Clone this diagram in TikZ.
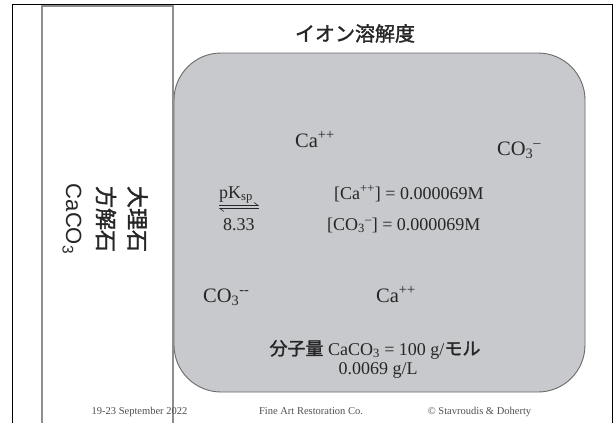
\documentclass[tikz,border=0pt]{standalone}
\usepackage{fontspec}
\setmainfont{Liberation Serif}
\setsansfont{Liberation Sans}
\newfontfamily\jp[FakeBold=1.5]{Noto Sans CJK JP}
\usetikzlibrary{arrows.meta}
\definecolor{boxfill}{HTML}{C8C9CC}
\definecolor{boxline}{HTML}{6A6A6A}
\definecolor{panelline}{HTML}{8E8E8E}
\definecolor{ink}{HTML}{262626}
\definecolor{footink}{HTML}{505050}
\begin{document}
\begin{tikzpicture}[x=1pt,y=-1pt,
  txt/.style={inner sep=0pt, text=ink, font=\fontsize{18}{20}\selectfont, anchor=base west},
  ion/.style={txt, font=\fontsize{20.5}{23}\selectfont},
  foot/.style={inner sep=0pt, text=footink, font=\fontsize{10.5}{12}\selectfont, anchor=base},
  eqarrow/.style={draw=ink, line width=0.6pt}]
\useasboundingbox (0,0) rectangle (616,423);
\clip (0,0) rectangle (616,423);
\fill[white] (0,0) rectangle (616,423);
% outer frame
\draw[line width=1pt, black] (12,430) -- (12,4) -- (612,4) -- (612,430);
% solution box
\draw[fill=boxfill, draw=boxline, line width=0.9pt, rounded corners=47pt] (174,53) rectangle (585,392);
% mineral panel
\draw[draw=panelline, line width=1.2pt] (42,440) -- (42,6) -- (173,6) -- (173,440);
% title
\node[anchor=base, inner sep=0pt, text=ink, font=\jp\fontsize{20}{24}\selectfont] (title) at (355,41) {イオン溶解度};
% mineral label
\node[rotate=-90, align=center, inner sep=0pt, text=ink, font=\fontsize{22}{31.5}\selectfont] (mineral) at (105,219) {{\jp 大理石}\\{\jp 方解石}\\{\sffamily CaCO\textsubscript{3}}};
% ions
\node[ion] (ca1) at (295,147) {Ca\textsuperscript{++}};
\node[ion] (co1) at (497,155) {CO\textsubscript{3}\textsuperscript{--}};
\node[txt] (pk) at (219,198) {pK\textsubscript{sp}};
\node[txt] (pkv) at (223,230) {8.33};
\node[txt] (cac) at (334,199) {[Ca\textsuperscript{++}] = 0.000069M};
\node[txt] (coc) at (327,230) {[CO\textsubscript{3}\textsuperscript{--}] = 0.000069M};
\node[ion] (co2) at (203,302) {CO\textsubscript{3}\textsuperscript{-{}-}};
\node[ion] (ca2) at (376,302) {Ca\textsuperscript{++}};
\node[txt, anchor=base] (mw) at (375,355) {{\jp 分子量} CaCO\textsubscript{3} = 100 g/{\jp モル}};
\node[txt, anchor=base] (gl) at (378,374) {0.0069 g/L};
% equilibrium arrow
\coordinate (a1) at (219,205.5);
\coordinate (a2) at (259,205.5);
\coordinate (b1) at (219,208.5);
\coordinate (b2) at (259,208.5);
\draw[eqarrow, -{Straight Barb[harpoon, length=4pt, width=6pt]}] (a1) -- (a2);
\draw[eqarrow, -{Straight Barb[harpoon, length=4pt, width=6pt]}] (b2) -- (b1);
% footer
\node[foot] (f1) at (139.5,414) {19-23 September 2022};
\node[foot] (f2) at (311,414) {Fine Art Restoration Co.};
\node[foot] (f3) at (479.5,414) {\textcopyright{} Stavroudis \& Doherty};
\end{tikzpicture}
\end{document}
